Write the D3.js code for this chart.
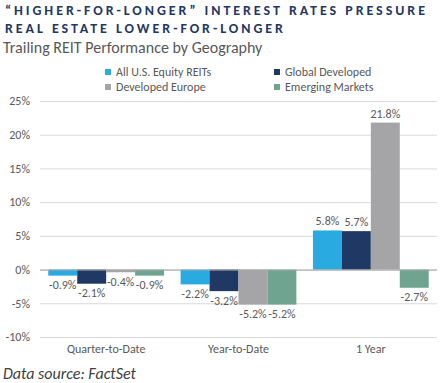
<!DOCTYPE html>
<html lang="en">
<head>
<meta charset="utf-8">
<title>REIT Performance</title>
<script src="https://cdn.jsdelivr.net/npm/d3@7"></script>
<style>
  body { margin: 0; background: #fff; }
  svg { font-family: Calibri, Carlito, sans-serif; }
</style>
</head>
<body>
<script>
var w = 442, h = 383;

var categories = ["Quarter-to-Date", "Year-to-Date", "1 Year"];
var seriesNames = ["All U.S. Equity REITs", "Global Developed", "Developed Europe", "Emerging Markets"];
var usReits = [-0.9, -2.2, 5.8];
var globalDev = [-2.1, -3.2, 5.7];
var devEurope = [-0.4, -5.2, 21.8];
var emerging = [-0.9, -5.2, -2.7];
var yTicks = [-10, -5, 0, 5, 10, 15, 20, 25];
var colors = ["#29ABE2", "#1F3864", "#A5A5A7", "#6FA590"];

var seriesValues = [usReits, globalDev, devEurope, emerging];

var margin = {left: 40, right: 5, top: 101, bottom: 46};

var svg = d3.select("body").append("svg")
  .attr("width", w).attr("height", h);

// titles (spread letters to fill the same width as the original)
svg.append("text").attr("x", 5).attr("y", 15)
  .attr("font-size", "14px").attr("font-weight", "bold")
  .attr("textLength", 420).attr("lengthAdjust", "spacing").attr("fill", "#1F3864")
  .text("\u201CHIGHER-FOR-LONGER\u201D INTEREST RATES PRESSURE");
svg.append("text").attr("x", 5).attr("y", 33)
  .attr("font-size", "14px").attr("font-weight", "bold")
  .attr("textLength", 278).attr("lengthAdjust", "spacing").attr("fill", "#1F3864")
  .text("REAL ESTATE LOWER-FOR-LONGER");
svg.append("text").attr("x", 3).attr("y", 53)
  .attr("font-size", "16px").attr("fill", "#595959")
  .text("Trailing REIT Performance by Geography");

var x0 = d3.scaleBand().domain(categories)
  .range([margin.left, w - margin.right]).paddingInner(0.125).paddingOuter(0.0625);
var x1 = d3.scaleBand().domain(d3.range(4)).range([0, x0.bandwidth()]);
var y = d3.scaleLinear().domain([-10, 25]).range([h - margin.bottom, margin.top]);

// gridlines
svg.append("g").selectAll("line").data(yTicks).enter().append("line")
  .attr("x1", margin.left).attr("x2", w - margin.right)
  .attr("y1", function(d) { return y(d) + 0.5; })
  .attr("y2", function(d) { return y(d) + 0.5; })
  .attr("stroke", "#D9D9D9").attr("stroke-width", 1);

// y axis labels
var yAxis = d3.axisLeft(y).tickValues(yTicks)
  .tickFormat(function(d) { return d + "%"; }).tickSize(0).tickPadding(6);
var ya = svg.append("g").attr("transform", "translate(" + (margin.left - 4) + ",0)").call(yAxis);
ya.select(".domain").remove();
ya.selectAll("text").attr("font-size", "12px").attr("fill", "#595959")
  .attr("font-family", "Calibri, Carlito, sans-serif");

// bars
var groups = svg.append("g").selectAll("g").data(categories).enter().append("g")
  .attr("transform", function(d) { return "translate(" + x0(d) + ",0)"; });

groups.selectAll("rect")
  .data(function(d, i) { return seriesValues.map(function(s, j) { return {s: j, v: s[i]}; }); })
  .enter().append("rect")
  .attr("x", function(d) { return x1(d.s); })
  .attr("width", x1.bandwidth())
  .attr("y", function(d) { return y(Math.max(0, d.v)); })
  .attr("height", function(d) { return Math.abs(y(d.v) - y(0)); })
  .attr("fill", function(d) { return colors[d.s]; });

groups.selectAll("text")
  .data(function(d, i) { return seriesValues.map(function(s, j) { return {s: j, v: s[i]}; }); })
  .enter().append("text")
  .attr("x", function(d) { return x1(d.s) + x1.bandwidth() / 2; })
  .attr("y", function(d) { return d.v >= 0 ? y(d.v) - 5 : y(d.v) + 13.5; })
  .attr("text-anchor", "middle")
  .attr("font-size", "12px").attr("fill", "#595959")
  .text(function(d) { return d.v.toFixed(1) + "%"; });

// zero line
svg.append("line")
  .attr("x1", margin.left).attr("x2", w - margin.right)
  .attr("y1", y(0) + 0.5).attr("y2", y(0) + 0.5)
  .attr("stroke", "#A6A6A6").attr("stroke-width", 1);

// x labels
svg.append("g").selectAll("text").data(categories).enter().append("text")
  .attr("x", function(d) { return x0(d) + x0.bandwidth() / 2; })
  .attr("y", 353)
  .attr("text-anchor", "middle").attr("font-size", "12px").attr("fill", "#595959")
  .text(function(d) { return d; });

// legend
var legendPos = [[108, 72], [277, 72], [108, 87], [277, 87]];
var lg = svg.append("g").selectAll("g").data(seriesNames).enter().append("g")
  .attr("transform", function(d, i) { return "translate(" + legendPos[i][0] + "," + legendPos[i][1] + ")"; });
lg.append("rect").attr("x", -3).attr("y", -3).attr("width", 6).attr("height", 6)
  .attr("fill", function(d, i) { return colors[i]; });
lg.append("text").attr("x", 8).attr("y", 4)
  .attr("font-size", "12px").attr("fill", "#595959")
  .text(function(d) { return d; });

// source
svg.append("text").attr("x", 3).attr("y", 379)
  .attr("font-size", "16px").attr("font-style", "italic").attr("fill", "#404040")
  .text("Data source: FactSet");
</script>
</body>
</html>
